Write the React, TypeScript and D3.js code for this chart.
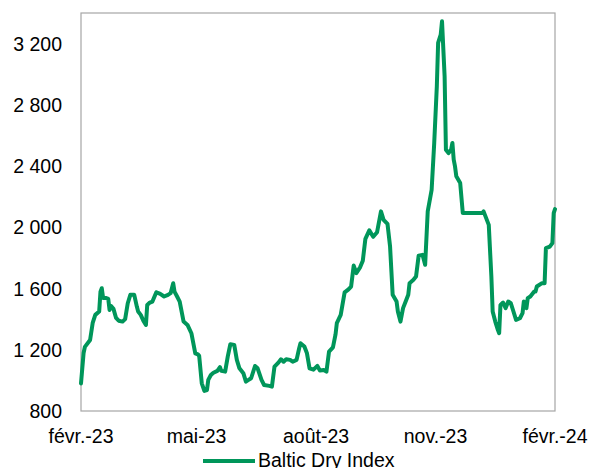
import React from "react";
import * as d3 from "d3";

const dates: string[] = [
  "2023-02-01","2023-02-03","2023-02-04","2023-02-08","2023-02-10","2023-02-12","2023-02-15","2023-02-16","2023-02-17","2023-02-18",
  "2023-02-20","2023-02-22","2023-02-23","2023-02-24","2023-02-26","2023-02-28","2023-03-02","2023-03-05","2023-03-07","2023-03-09",
  "2023-03-11","2023-03-14","2023-03-16","2023-03-17","2023-03-19","2023-03-21","2023-03-23","2023-03-24","2023-03-26","2023-03-28",
  "2023-03-31","2023-04-03","2023-04-06","2023-04-09","2023-04-11","2023-04-13","2023-04-14","2023-04-16","2023-04-18","2023-04-21",
  "2023-04-24","2023-04-27","2023-04-30","2023-05-02","2023-05-03","2023-05-05","2023-05-07","2023-05-09","2023-05-10","2023-05-12",
  "2023-05-14","2023-05-17","2023-05-19","2023-05-20","2023-05-23","2023-05-25","2023-05-27","2023-05-30","2023-06-01","2023-06-03",
  "2023-06-06","2023-06-08","2023-06-10","2023-06-12","2023-06-15","2023-06-17","2023-06-20","2023-06-22","2023-06-26","2023-06-28",
  "2023-06-30","2023-07-03","2023-07-05","2023-07-07","2023-07-09","2023-07-12","2023-07-14","2023-07-17","2023-07-19","2023-07-20",
  "2023-07-23","2023-07-25","2023-07-27","2023-07-30","2023-08-02","2023-08-04","2023-08-07","2023-08-09","2023-08-11","2023-08-14",
  "2023-08-16","2023-08-17","2023-08-20","2023-08-23","2023-08-26","2023-08-28","2023-08-30","2023-09-01","2023-09-04","2023-09-06",
  "2023-09-08","2023-09-11","2023-09-14","2023-09-17","2023-09-20","2023-09-22","2023-09-25","2023-09-27","2023-09-29","2023-10-02",
  "2023-10-03","2023-10-05","2023-10-07","2023-10-09","2023-10-11","2023-10-12","2023-10-15","2023-10-17","2023-10-19","2023-10-22",
  "2023-10-24","2023-10-26","2023-10-29","2023-10-31","2023-11-02","2023-11-03","2023-11-05","2023-11-06","2023-11-08","2023-11-09",
  "2023-11-11","2023-11-13","2023-11-14","2023-11-15","2023-11-16","2023-11-17","2023-11-20","2023-11-22","2023-11-28","2023-12-03",
  "2023-12-07","2023-12-08","2023-12-10","2023-12-12","2023-12-14","2023-12-15","2023-12-17","2023-12-19","2023-12-20","2023-12-21",
  "2023-12-23","2023-12-25","2023-12-27","2023-12-29","2023-12-31","2024-01-02","2024-01-05","2024-01-07","2024-01-08","2024-01-10",
  "2024-01-11","2024-01-13","2024-01-16","2024-01-17","2024-01-18","2024-01-22","2024-01-24","2024-01-25","2024-01-28","2024-01-30",
  "2024-01-31","2024-02-01"
];

const bdiValues: number[] = [
  980,1179,1219,1264,1375,1428,1450,1580,1602,1539,
  1539,1532,1460,1487,1467,1408,1390,1384,1400,1504,
  1559,1559,1482,1450,1428,1390,1362,1493,1508,1515,
  1576,1565,1548,1559,1570,1635,1580,1548,1515,1384,
  1362,1308,1177,1170,1160,981,931,937,1003,1035,
  1050,1062,1086,1062,1057,1155,1236,1232,1134,1079,
  1047,992,1003,1014,1094,1079,1003,970,964,959,
  1090,1116,1138,1122,1138,1134,1122,1134,1210,1243,
  1221,1177,1079,1070,1095,1064,1068,1057,1188,1216,
  1300,1374,1428,1575,1595,1613,1750,1700,1740,1782,
  1925,1980,1938,1968,2104,2049,2023,1874,1559,1515,
  1450,1384,1472,1515,1559,1635,1657,1678,1814,1820,
  1755,2104,2245,2551,2921,3205,3259,3346,2986,2507,
  2485,2507,2551,2442,2398,2333,2289,2093,2093,2093,
  2093,2104,2060,2016,1678,1450,1384,1330,1308,1493,
  1508,1472,1515,1504,1450,1395,1406,1439,1515,1472,
  1537,1548,1580,1580,1613,1635,1635,1864,1874,1897,
  2093,2119
];

const yTicks: number[] = [800, 1200, 1600, 2000, 2400, 2800, 3200];
const xTickDates: string[] = ["2023-02-01", "2023-05-01", "2023-08-01", "2023-11-01", "2024-02-01"];
const xTickLabels: string[] = ["févr.-23", "mai-23", "août-23", "nov.-23", "févr.-24"];
const seriesName = "Baltic Dry Index";

const W = 593, H = 468;
const plot = { left: 81, top: 13, right: 555, bottom: 411 };
const GREEN = "#00965A";
const FONT = "'Liberation Sans', Arial, sans-serif";

export default function App() {
  const parse = d3.timeParse("%Y-%m-%d");
  const x = d3.scaleTime()
    .domain([parse("2023-02-01")!, parse("2024-02-01")!])
    .range([plot.left, plot.right]);
  const y = d3.scaleLinear().domain([800, 3400]).range([plot.bottom, plot.top]);
  const data = dates.map((d, i) => ({ date: parse(d)!, v: bdiValues[i] }));
  const line = d3.line<{ date: Date; v: number }>()
    .x(d => x(d.date))
    .y(d => y(d.v));
  const fmt = (v: number) => d3.format(",")(v).replace(",", " ");

  return (
    <svg width={W} height={H} style={{ position: "absolute", left: 0, top: 0, background: "#fff" }} fontFamily={FONT}>
      <rect x={plot.left} y={plot.top} width={plot.right - plot.left} height={plot.bottom - plot.top}
        fill="none" stroke="#a6a6a6" strokeWidth={1.2} />
      {yTicks.map(t => (
        <text key={t} x={62} y={y(t) + 7} textAnchor="end" fontSize={19.5} fill="#000">{fmt(t)}</text>
      ))}
      {xTickDates.map((d, i) => (
        <text key={d} x={x(parse(d)!)} y={443} textAnchor="middle" fontSize={19.5} fill="#000">{xTickLabels[i]}</text>
      ))}
      <path d={line(data) || ""} fill="none" stroke={GREEN} strokeWidth={4} strokeLinejoin="round" strokeLinecap="round" />
      <line x1={203} x2={255} y1={461} y2={461} stroke={GREEN} strokeWidth={4} />
      <text x={258} y={467} fontSize={19.5} fill="#000">{seriesName}</text>
    </svg>
  );
}
